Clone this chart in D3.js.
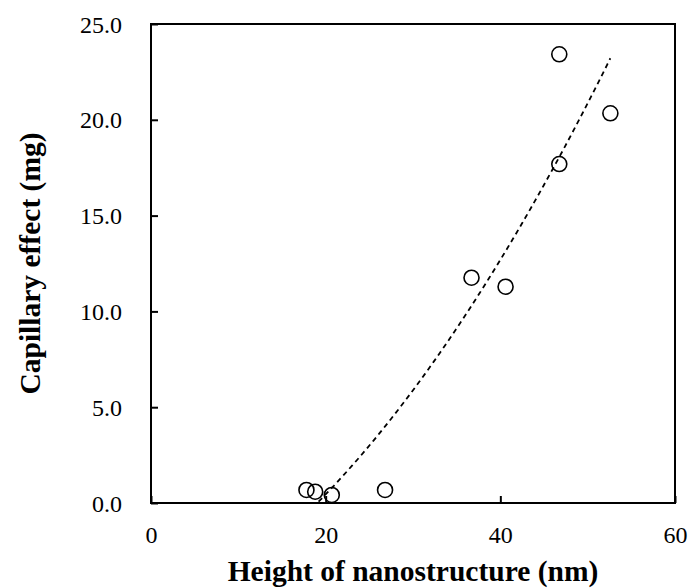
<!DOCTYPE html>
<html>
<head>
<meta charset="utf-8">
<script src="https://cdn.jsdelivr.net/npm/d3@7"></script>
<style>
  body { margin: 0; background: #fff; }
</style>
</head>
<body>
<script>
// data
var heights = [17.8, 18.8, 20.7, 26.8, 36.7, 40.6, 46.75, 46.75, 52.6];
var capillary = [0.68, 0.59, 0.42, 0.68, 11.76, 11.29, 23.42, 17.69, 20.34];
var xTicks = [0, 20, 40, 60];
var yTicks = [0, 5, 10, 15, 20, 25];

var serif = "'Liberation Serif', 'Times New Roman', Times, serif";

// set the dimensions and margins of the graph
var margin = {top: 24, right: 14, bottom: 85, left: 151};
var width = 689 - margin.left - margin.right;
var height = 588 - margin.top - margin.bottom;

var svg = d3.select("body").append("svg")
    .attr("width", 689)
    .attr("height", 588)
  .append("g")
    .attr("transform", "translate(" + margin.left + "," + margin.top + ")");

var x = d3.scaleLinear().domain([0, 60]).range([0, width]);
var y = d3.scaleLinear().domain([0, 25]).range([height, 0]);

// clip so the trend line stays inside the frame
svg.append("clipPath").attr("id", "plotclip")
  .append("rect").attr("width", width).attr("height", height);

// axes, ticks pointing inward
var xAxis = d3.axisBottom(x).tickValues(xTicks).tickFormat(d3.format(".0f"))
    .tickSizeInner(-7).tickSizeOuter(0).tickPadding(23);
var yAxis = d3.axisLeft(y).tickValues(yTicks).tickFormat(d3.format(".1f"))
    .tickSizeInner(-7).tickSizeOuter(0).tickPadding(29);

var gx = svg.append("g").attr("transform", "translate(0," + height + ")").call(xAxis);
var gy = svg.append("g").call(yAxis);

[gx, gy].forEach(function(g) {
  g.attr("font-family", serif).attr("font-size", 24);
  g.select(".domain").remove();
  g.selectAll("line").attr("stroke", "#000").attr("stroke-width", 2);
  g.selectAll("text").style("font-family", serif).style("font-size", "24px").attr("fill", "#000");
});
gy.selectAll("text").attr("dy", "0.34em");

// frame
svg.append("rect")
    .attr("width", width).attr("height", height)
    .attr("fill", "none").attr("stroke", "#000").attr("stroke-width", 2);

// polynomial (order 2) trend line, least squares from the points
function quadFit(xs, ys) {
  var s = [0, 0, 0, 0, 0], t = [0, 0, 0];
  xs.forEach(function(xv, i) {
    var p = 1;
    for (var k = 0; k < 5; k++) { s[k] += p; if (k < 3) t[k] += p * ys[i]; p *= xv; }
  });
  var A = [[s[0], s[1], s[2], t[0]], [s[1], s[2], s[3], t[1]], [s[2], s[3], s[4], t[2]]];
  for (var i = 0; i < 3; i++) {
    for (var j = i + 1; j < 3; j++) {
      var f = A[j][i] / A[i][i];
      for (var k = i; k < 4; k++) A[j][k] -= f * A[i][k];
    }
  }
  var c = [0, 0, 0];
  for (var i = 2; i >= 0; i--) {
    var v = A[i][3];
    for (var k = i + 1; k < 3; k++) v -= A[i][k] * c[k];
    c[i] = v / A[i][i];
  }
  return c;
}
var coef = quadFit(heights, capillary);
var x0 = d3.min(heights), x1 = d3.max(heights);
var trend = d3.range(0, 101).map(function(i) {
  var xv = x0 + (x1 - x0) * i / 100;
  return [xv, coef[0] + coef[1] * xv + coef[2] * xv * xv];
}).filter(function(d) { return d[1] >= 0; });

svg.append("path")
    .datum(trend)
    .attr("clip-path", "url(#plotclip)")
    .attr("fill", "none")
    .attr("stroke", "#000")
    .attr("stroke-width", 1.8)
    .attr("stroke-dasharray", "5,4")
    .attr("d", d3.line().x(function(d) { return x(d[0]); }).y(function(d) { return y(d[1]); }));

// points
svg.selectAll("circle.pt")
    .data(heights)
  .enter().append("circle")
    .attr("class", "pt")
    .attr("cx", function(d) { return x(d); })
    .attr("cy", function(d, i) { return y(capillary[i]); })
    .attr("r", 7.5)
    .attr("fill", "none")
    .attr("stroke", "#000")
    .attr("stroke-width", 1.6);

// axis titles
svg.append("text")
    .attr("x", width / 2).attr("y", 557)
    .attr("text-anchor", "middle")
    .style("font-family", serif)
    .style("font-size", "29.5px").style("font-weight", "bold")
    .text("Height of nanostructure (nm)");

svg.append("text")
    .attr("transform", "translate(" + (40 - margin.left) + "," + (height / 2) + ") rotate(-90)")
    .attr("text-anchor", "middle")
    .style("font-family", serif)
    .style("font-size", "29.5px").style("font-weight", "bold")
    .text("Capillary effect (mg)");
</script>
</body>
</html>
